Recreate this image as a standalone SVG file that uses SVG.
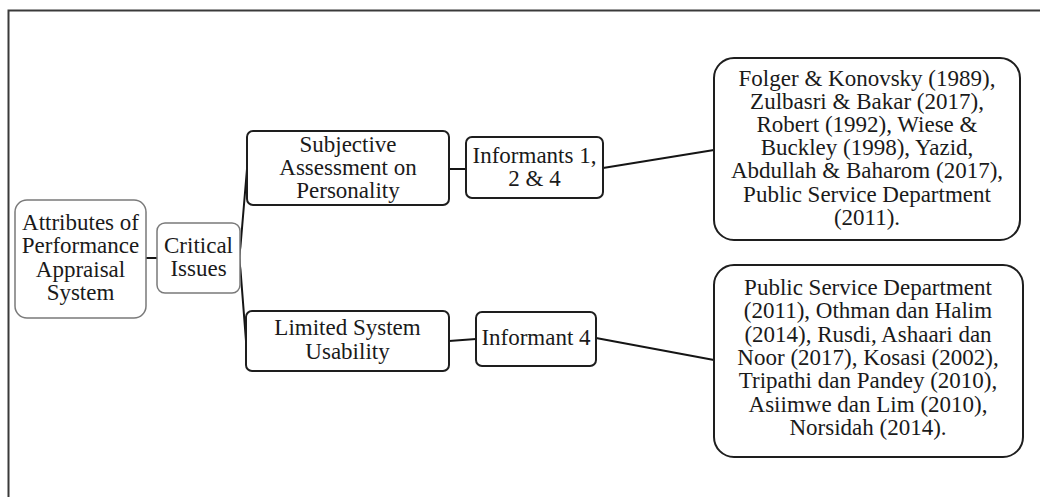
<svg xmlns="http://www.w3.org/2000/svg" width="1040" height="497" viewBox="0 0 1040 497">
<style>
  text { font-family: "Liberation Serif", "Times New Roman", serif; font-size: 23px; fill: #1a1a1a; text-anchor: middle; }
  .soft { fill: #fff; stroke: #7a7a7a; stroke-width: 1.5; }
  .hard { fill: #fff; stroke: #1e1e1e; stroke-width: 2; }
  .conn { fill: none; stroke: #151515; stroke-width: 2; }
  .frame { fill: none; stroke: #3a3a3a; stroke-width: 2; }
</style>
<rect width="1040" height="497" fill="#fff"/>
<path class="frame" d="M8.5,497 V10.5 H1040"/>
<g id="connectors">
  <line class="conn" x1="146" y1="258" x2="157" y2="258"/>
  <path class="conn" d="M247,169 L240.5,246 Q238.5,258 240.5,270 L246,341"/>
  <line class="conn" x1="449" y1="169" x2="466" y2="169"/>
  <line class="conn" x1="603" y1="168" x2="714" y2="150"/>
  <line class="conn" x1="449" y1="341" x2="476" y2="339"/>
  <line class="conn" x1="596" y1="338" x2="714" y2="360"/>
</g>
<g id="attributes">
  <rect class="soft" x="15" y="200" width="131" height="118" rx="12"/>
  <text x="80.5" y="230">Attributes of</text>
  <text x="80.5" y="253">Performance</text>
  <text x="80.5" y="277">Appraisal</text>
  <text x="80.5" y="300">System</text>
</g>
<g id="critical">
  <rect class="soft" x="157" y="223" width="83" height="70" rx="8"/>
  <text x="198.5" y="253">Critical</text>
  <text x="198.5" y="276">Issues</text>
</g>
<g id="subjective">
  <rect class="hard" x="247" y="131" width="202" height="74" rx="6"/>
  <text x="348" y="152">Subjective</text>
  <text x="348" y="175">Assessment on</text>
  <text x="348" y="198">Personality</text>
</g>
<g id="informants124">
  <rect class="hard" x="466" y="137" width="137" height="61" rx="6"/>
  <text x="534.5" y="163">Informants 1,</text>
  <text x="534.5" y="186">2 &amp; 4</text>
</g>
<g id="refs1">
  <rect class="hard" x="714" y="58" width="306" height="182" rx="20"/>
  <text x="867" y="86">Folger &amp; Konovsky (1989),</text>
  <text x="867" y="109">Zulbasri &amp; Bakar (2017),</text>
  <text x="867" y="132">Robert (1992), Wiese &amp;</text>
  <text x="867" y="155">Buckley (1998), Yazid,</text>
  <text x="867" y="178">Abdullah  &amp; Baharom (2017),</text>
  <text x="867" y="202">Public Service Department</text>
  <text x="867" y="225">(2011).</text>
</g>
<g id="limited">
  <rect class="hard" x="246" y="311" width="203" height="60" rx="6"/>
  <text x="347.5" y="335">Limited System</text>
  <text x="347.5" y="359">Usability</text>
</g>
<g id="informant4">
  <rect class="hard" x="476" y="312" width="120" height="54" rx="6"/>
  <text x="536" y="345">Informant 4</text>
</g>
<g id="refs2">
  <rect class="hard" x="714" y="265" width="309" height="192" rx="20"/>
  <text x="868" y="295">Public Service Department</text>
  <text x="868" y="318">(2011), Othman dan Halim</text>
  <text x="868" y="342">(2014), Rusdi, Ashaari dan</text>
  <text x="868" y="365">Noor (2017),  Kosasi (2002),</text>
  <text x="868" y="388">Tripathi dan Pandey (2010),</text>
  <text x="868" y="412">Asiimwe dan Lim (2010),</text>
  <text x="868" y="435">Norsidah (2014).</text>
</g>
</svg>
